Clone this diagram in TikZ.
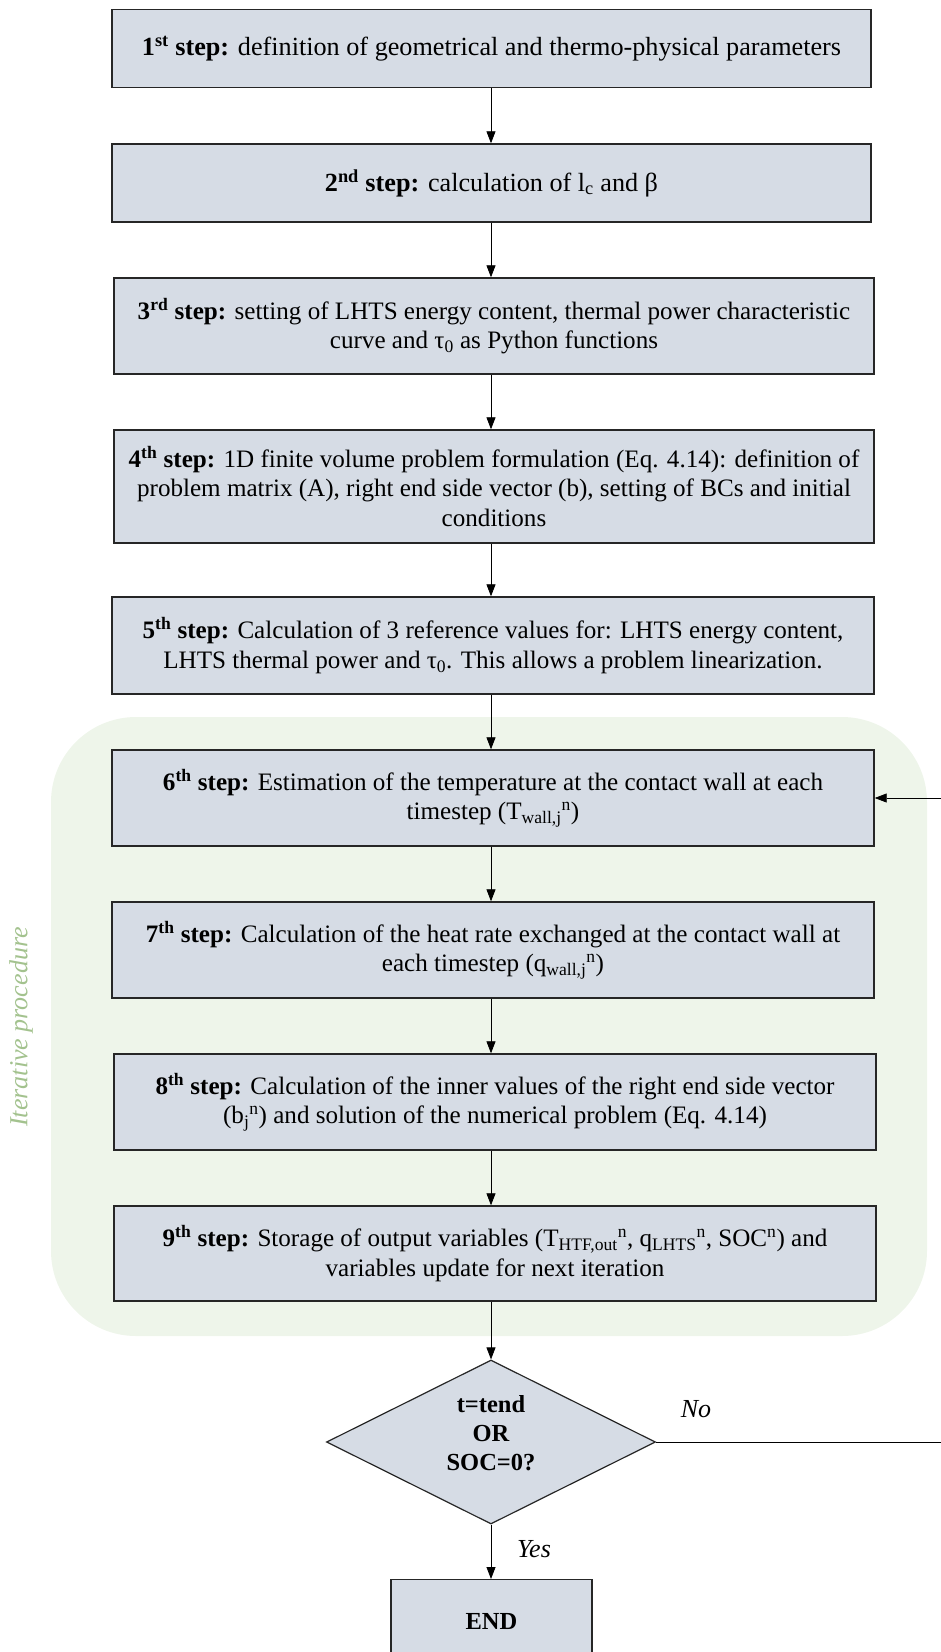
\documentclass[tikz,border=0pt]{standalone}
\usepackage{fontspec}
\setmainfont{Liberation Serif}
\usetikzlibrary{shapes.geometric,arrows.meta}
\definecolor{boxfill}{HTML}{D6DCE5}
\definecolor{iterfill}{HTML}{EEF5EA}
\definecolor{itertext}{HTML}{A3C28E}
\tikzset{
  stepbox/.style={draw=black!85, line width=1.4pt, fill=boxfill, align=center,
    font=\fontsize{25.1}{29.7}\selectfont, inner sep=0pt},
  bigtext/.style={font=\fontsize{26.2}{30}\selectfont},
  arr/.style={-{Triangle[length=12pt,width=9pt]}, line width=0.8pt},
  lbl/.style={font=\fontsize{26}{30}\selectfont\itshape}
}
\begin{document}
\begin{tikzpicture}[x=1pt,y=1pt]
\clip (0,0) rectangle (941,-1652);
% iterative region
\fill[iterfill, rounded corners=85pt] (51,-717) rectangle (927,-1336);
\node[rotate=90, text=itertext, font=\fontsize{26}{30}\selectfont\itshape] (iter) at (21,-1027) {Iterative procedure};
\coordinate (ax) at (491,0);
\node[stepbox, bigtext, minimum width=759, minimum height=78] (s1) at (491.5,-48.5)
  {\textbf{1\textsuperscript{st} step:} definition of geometrical and thermo-physical parameters};
\node[stepbox, bigtext, minimum width=759, minimum height=78] (s2) at (491.5,-183)
  {\textbf{2\textsuperscript{nd} step:} calculation of l\textsubscript{c} and β};
\node[stepbox, minimum width=760, minimum height=96] (s3) at (494,-326)
  {\textbf{3\textsuperscript{rd} step:} setting of LHTS energy content, thermal power characteristic\\curve and τ\textsubscript{0} as Python functions};
\node[stepbox, minimum width=760, minimum height=113] (s4) at (494,-486.5)
  {\textbf{4\textsuperscript{th} step:} 1D finite volume problem formulation (Eq. 4.14): definition of\\problem matrix (A), right end side vector (b), setting of BCs and initial\\conditions};
\node[stepbox, minimum width=762, minimum height=97] (s5) at (493,-645.5)
  {\textbf{5\textsuperscript{th} step:} Calculation of 3 reference values for: LHTS energy content,\\LHTS thermal power and τ\textsubscript{0}. This allows a problem linearization.};
\node[stepbox, minimum width=762, minimum height=96] (s6) at (493,-798)
  {\textbf{6\textsuperscript{th} step:} Estimation of the temperature at the contact wall at each\\timestep (T\textsubscript{wall,j}\textsuperscript{n})};
\node[stepbox, minimum width=762, minimum height=96] (s7) at (493,-950)
  {\textbf{7\textsuperscript{th} step:} Calculation of the heat rate exchanged at the contact wall at\\each timestep (q\textsubscript{wall,j}\textsuperscript{n})};
\node[stepbox, minimum width=762, minimum height=96] (s8) at (495,-1102)
  {\textbf{8\textsuperscript{th} step:} Calculation of the inner values of the right end side vector\\(b\textsubscript{j}\textsuperscript{n}) and solution of the numerical problem (Eq. 4.14)};
\node[stepbox, minimum width=762, minimum height=95] (s9) at (495,-1253.5)
  {\textbf{9\textsuperscript{th} step:} Storage of output variables (T\textsubscript{HTF,out}\textsuperscript{n}, q\textsubscript{LHTS}\textsuperscript{n}, SOC\textsuperscript{n}) and\\variables update for next iteration};
\node[diamond, draw=black!85, line width=1.2pt, fill=boxfill, minimum width=329, minimum height=164, inner sep=0pt] (dia) at (491,-1442) {};
\node[align=center, inner sep=0pt, font=\fontsize{24.5}{29}\selectfont\bfseries] (diatext) at ([yshift=8.5pt]dia.center) {t=tend\\OR\\SOC=0?};
\node[stepbox, minimum width=201, minimum height=84, anchor=north, font=\fontsize{24.5}{29}\selectfont\bfseries] (end) at (491.5,-1579) {END};
% connectors
\draw[arr] (s1.south -| ax) -- (s2.north -| ax);
\draw[arr] (s2.south -| ax) -- (s3.north -| ax);
\draw[arr] (s3.south -| ax) -- (s4.north -| ax);
\draw[arr] (s4.south -| ax) -- (s5.north -| ax);
\draw[arr] (s5.south -| ax) -- (s6.north -| ax);
\draw[arr] (s6.south -| ax) -- (s7.north -| ax);
\draw[arr] (s7.south -| ax) -- (s8.north -| ax);
\draw[arr] (s8.south -| ax) -- (s9.north -| ax);
\draw[arr] (s9.south -| ax) -- (dia.north);
\draw[arr] (dia.south) -- (end.north -| ax);
\coordinate (fb) at (970,-1442);
\draw[arr] (dia.east) -- (fb) |- (s6.east);
\node[lbl] (no) at (696,-1409) {No};
\node[lbl] (yes) at (534,-1549) {Yes};
\end{tikzpicture}
\end{document}
